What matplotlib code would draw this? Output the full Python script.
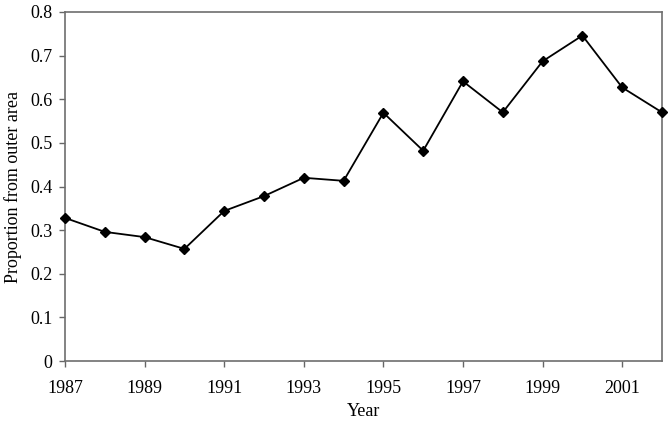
import matplotlib
matplotlib.use("Agg")
import matplotlib.pyplot as plt

years = [1987, 1988, 1989, 1990, 1991, 1992, 1993, 1994,
         1995, 1996, 1997, 1998, 1999, 2000, 2001, 2002]
proportion = [0.328, 0.296, 0.284, 0.257, 0.344, 0.378, 0.420, 0.413,
              0.569, 0.482, 0.641, 0.570, 0.687, 0.746, 0.627, 0.570]
xticks = [1987, 1989, 1991, 1993, 1995, 1997, 1999, 2001]
yticks = [0, 0.1, 0.2, 0.3, 0.4, 0.5, 0.6, 0.7, 0.8]
ytick_labels = ["0", "0.1", "0.2", "0.3", "0.4", "0.5", "0.6", "0.7", "0.8"]

plt.rcParams["font.family"] = ["Liberation Serif", "DejaVu Serif"]

fig = plt.figure(figsize=(6.69, 4.22), dpi=100)
ax = fig.add_axes([0.0972, 0.1445, 0.8923, 0.8271])

ax.plot(years, proportion, color="black", linewidth=1.3,
        marker="D", markersize=5.5, markerfacecolor="black",
        markeredgecolor="black", clip_on=False, zorder=3)

ax.set_xlim(1987, 2002)
ax.set_ylim(0, 0.8)
ax.set_xticks(xticks)
ax.set_yticks(yticks)
ax.set_yticklabels(ytick_labels)
ax.tick_params(direction="out", length=4, width=1, color="#666666",
               labelsize=13)
ax.tick_params(axis="x", pad=10)
ax.tick_params(axis="y", pad=5)

for s in ax.spines.values():
    s.set_color("#6e6e6e")
    s.set_linewidth(1.2)

ax.set_xlabel("Year", fontsize=13, labelpad=4)
ax.set_ylabel("Proportion from outer area", fontsize=13, labelpad=6)

fig.savefig("out.png", dpi=100)
